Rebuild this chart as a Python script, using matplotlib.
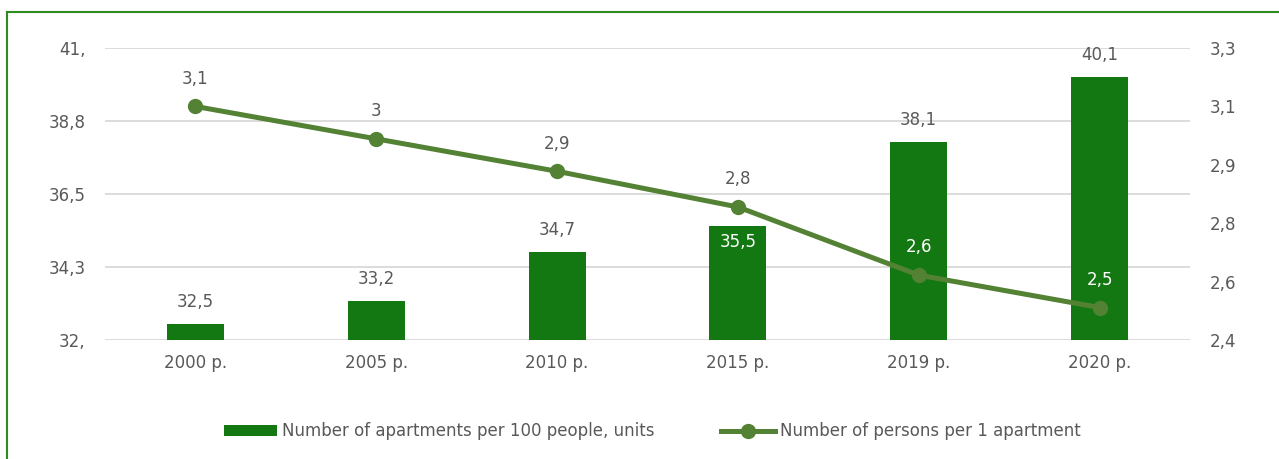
import matplotlib.pyplot as plt
import numpy as np
from decimal import Decimal, ROUND_HALF_UP
from matplotlib.lines import Line2D

years = ['2000 р.', '2005 р.', '2010 р.', '2015 р.', '2019 р.', '2020 р.']
apartments = [32.5, 33.2, 34.7, 35.5, 38.1, 40.1]
persons = [3.12, 3.02, 2.92, 2.81, 2.60, 2.50]

bar_color = '#137812'
line_color = '#548235'
text_color = '#595959'
grid_color = '#d9d9d9'

plt.rcParams['font.family'] = ['Liberation Sans Narrow', 'DejaVu Sans']
plt.rcParams['font.size'] = 12


def round1(v):
    # excel-style rounding, half up
    return str(Decimal(str(round(v, 6))).quantize(Decimal('0.1'), rounding=ROUND_HALF_UP))


def fmt_left(v):
    s = round1(v).replace('.', ',')
    if s.endswith(',0'):
        s = s[:-1]
    return s


def fmt_label(v):
    s = round1(v)
    if s.endswith('.0'):
        s = s[:-2]
    return s.replace('.', ',')


fig = plt.figure(figsize=(12.79, 4.59), dpi=100)
ax = fig.add_axes([0.0821, 0.2593, 0.8483, 0.6361])
ax2 = ax.twinx()

x = np.arange(len(years))
ax.bar(x, apartments, width=0.315, color=bar_color, zorder=2,
       label='Number of apartments per 100 people, units')
ax.set_ylim(32, 41)
ax.set_xlim(-0.5, len(years) - 0.5)
left_ticks = np.linspace(32, 41, 5)
ax.set_yticks(left_ticks)
ax.set_yticklabels([fmt_left(t) for t in left_ticks])
ax.set_xticks(x)
ax.set_xticklabels(years)
ax.grid(axis='y', color=grid_color, linewidth=1.3, zorder=0)
ax.set_axisbelow(True)

ax2.plot(x, persons, color=line_color, linewidth=3.6, marker='o', markersize=10,
         label='Number of persons per 1 apartment', zorder=3)
ax2.set_ylim(2.4, 3.3)
right_ticks = np.linspace(2.4, 3.3, 6)
ax2.set_yticks(right_ticks)
ax2.set_yticklabels([fmt_label(t) for t in right_ticks])

for a in (ax, ax2):
    for sp in a.spines.values():
        sp.set_visible(False)
    a.tick_params(length=0, colors=text_color, labelsize=12)
ax.tick_params(axis='y', pad=14)
ax2.tick_params(axis='y', pad=14)
ax.tick_params(axis='x', pad=10)

# bar labels: the 2015 one sits inside the bar
for i, v in enumerate(apartments):
    if i == 3:
        ax.annotate(fmt_label(v), (x[i], v), xytext=(0, -11), textcoords='offset points',
                    ha='center', va='center', color='white', fontsize=12, zorder=5)
    else:
        ax.annotate(fmt_label(v), (x[i], v), xytext=(0, 16), textcoords='offset points',
                    ha='center', va='center', color=text_color, fontsize=12, zorder=5)

for i, v in enumerate(persons):
    c = 'white' if i >= 4 else text_color
    ax2.annotate(fmt_label(v), (x[i], v), xytext=(0, 20), textcoords='offset points',
                 ha='center', va='center', color=c, fontsize=12, zorder=5)

h1, l1 = ax.get_legend_handles_labels()
h2, l2 = ax2.get_legend_handles_labels()
fig.legend(h1 + h2, l1 + l2, loc='center', bbox_to_anchor=(0.51, 0.06), ncol=2,
           frameon=False, fontsize=12, labelcolor=text_color, handlelength=3.2,
           handletextpad=0.3, columnspacing=4.0)

# outer frame (left and top edges visible)
fig.add_artist(Line2D([7 / 1279, 7 / 1279], [0, 1 - 12 / 459], transform=fig.transFigure,
                      color='#2e8b1f', linewidth=1.5))
fig.add_artist(Line2D([7 / 1279, 1], [1 - 12 / 459, 1 - 12 / 459], transform=fig.transFigure,
                      color='#2e8b1f', linewidth=1.5))

fig.savefig('out.png', dpi=100)
